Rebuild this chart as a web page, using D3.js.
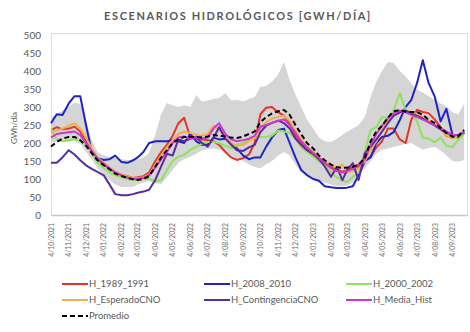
<!DOCTYPE html>
<html>
<head>
<meta charset="utf-8">
<script src="https://cdn.jsdelivr.net/npm/d3@7"></script>
<style>
  html, body { margin: 0; padding: 0; background: #fff; }
  svg { display: block; font-family: Lato, "Open Sans", sans-serif; }
</style>
</head>
<body>
<svg id="chart" width="470" height="332"></svg>
<script>
// Monthly tick labels (day/month/year)
const tickLabels = [
  "4/10/2021","4/11/2021","4/12/2021","4/01/2022","4/02/2022","4/03/2022",
  "4/04/2022","4/05/2022","4/06/2022","4/07/2022","4/08/2022","4/09/2022",
  "4/10/2022","4/11/2022","4/12/2022","4/01/2023","4/02/2023","4/03/2023",
  "4/04/2023","4/05/2023","4/06/2023","4/07/2023","4/08/2023","4/09/2023"
];
// Sample days within each month (days 4, 14 and 24)
const dayOffsets = [0, 10, 20];

// GWh/día per scenario, three samples per month
const h1989 = [235,244,238,240,245,232,205,178,155,140,128,118,112,108,103,105,108,118,
  150,175,195,220,255,270,215,212,210,208,205,195,175,160,153,158,168,200,
  280,298,300,285,276,255,220,198,180,168,150,144,135,127,120,125,133,140,
  150,162,188,205,240,240,210,200,265,292,286,283,265,244,220,215,217,228];
const h2008 = [255,280,278,310,330,330,250,175,158,153,155,165,147,145,152,160,175,200,
  205,205,205,208,205,200,225,205,195,195,215,210,212,200,185,165,155,160,
  160,190,215,236,240,200,160,125,111,100,95,80,77,75,75,76,80,110,
  150,160,200,217,220,230,264,300,320,367,430,367,328,260,295,220,215,230];
const h2000 = [240,210,205,207,212,205,195,170,145,130,118,110,105,100,97,97,102,100,
  93,97,125,150,162,167,181,189,198,203,203,200,192,186,195,200,208,214,
  217,217,220,235,232,228,212,188,175,162,150,139,119,105,95,92,106,118,
  175,236,244,272,270,290,339,292,285,260,215,212,202,215,192,189,210,225];
const hEsperado = [228,235,240,248,255,240,215,185,160,145,132,120,113,107,102,102,105,112,
  140,165,188,208,225,232,228,222,220,225,248,238,215,200,192,195,205,215,
  240,258,268,272,276,262,235,210,190,175,160,148,140,130,140,118,122,130,
  150,180,205,235,262,280,288,290,286,280,272,262,250,238,222,212,220,232];
const hContingencia = [145,145,160,180,168,152,138,128,120,110,85,58,55,55,58,62,65,70,
  98,135,170,165,210,205,212,217,200,190,214,244,212,195,180,178,188,195,
  230,248,256,262,255,240,212,195,180,170,155,135,106,133,97,125,144,97,
  172,190,210,232,255,275,285,290,282,275,268,258,248,238,228,222,222,230];
const hMedia = [215,225,228,230,232,222,200,178,158,142,130,118,110,104,100,100,103,110,
  132,155,175,200,215,218,212,215,212,215,240,255,225,210,205,208,212,220,
  245,250,256,262,265,250,228,205,188,172,158,145,130,122,118,122,128,135,
  155,195,225,248,268,282,290,285,278,272,265,258,250,242,232,222,222,232];
const promedio = [190,203,212,217,217,208,192,172,152,138,127,115,108,103,99,97,100,108,
  135,160,180,200,210,217,217,217,215,218,222,220,218,215,214,218,225,232,
  258,272,282,288,292,278,250,225,200,185,165,152,140,133,131,132,134,140,
  158,205,232,248,270,288,292,287,286,286,278,265,255,242,228,217,220,236];
// Historical envelope (min / max)
const rangeMax = [270,280,290,300,312,308,262,208,175,165,161,158,155,153,153,155,160,172,
  225,280,311,305,300,305,300,333,315,318,322,325,339,318,320,315,322,328,
  356,358,370,390,425,375,335,300,265,240,215,205,203,212,222,231,240,250,
  272,328,370,400,425,422,400,385,365,348,340,330,320,310,302,285,280,310];
const rangeMin = [198,205,208,208,205,198,175,155,130,112,97,85,78,78,78,85,90,95,
  88,86,105,125,145,155,162,170,180,183,185,182,175,165,155,150,140,133,
  130,140,150,165,175,165,140,120,108,100,95,90,85,80,80,82,90,108,
  130,150,170,181,185,189,193,198,200,190,181,186,189,180,165,150,148,153];

const yTicks = [0,50,100,150,200,250,300,350,400,450,500];

const seriesNames = ["H_1989_1991","H_2008_2010","H_2000_2002","H_EsperadoCNO",
  "H_ContingenciaCNO","H_Media_Hist","Promedio"];
const seriesColors = ["#E3342A","#1E22C8","#8DE35B","#F2B04A","#5A2B9C","#CF35CF","#000000"];
const seriesValues = [h1989, h2008, h2000, hEsperado, hContingencia, hMedia, promedio];

const parseDate = d3.timeParse("%d/%m/%Y");
const tickDates = tickLabels.map(parseDate);
const sampleDates = tickDates.flatMap(d => dayOffsets.map(k => d3.timeDay.offset(d, k)));

const svg = d3.select("#chart");
const textColor = "#595959";

const plot = { left: 51, right: 467, top: 35, bottom: 215 };

const x = d3.scaleTime()
  .domain([tickDates[0], d3.timeDay.offset(tickDates[tickDates.length - 1], 25)])
  .range([plot.left, plot.right]);
const y = d3.scaleLinear().domain([0, 500]).range([plot.bottom, plot.top]);

// Title
svg.append("text")
  .attr("x", 238).attr("y", 20)
  .attr("text-anchor", "middle")
  .attr("fill", textColor)
  .attr("font-size", 11).attr("font-weight", "bold")
  .attr("letter-spacing", 1.6)
  .text("ESCENARIOS HIDROLÓGICOS [GWH/DÍA]");

// Plot frame
svg.append("rect")
  .attr("x", plot.left + 0.5).attr("y", 33.5)
  .attr("width", plot.right - plot.left).attr("height", plot.bottom - 33)
  .attr("fill", "none").attr("stroke", "#DCDCDC");

// Y axis
const yAxis = svg.append("g")
  .attr("transform", `translate(${plot.left - 10},0)`)
  .call(d3.axisLeft(y).tickValues(yTicks).tickSize(0).tickPadding(0));
yAxis.select(".domain").remove();
yAxis.selectAll("text").attr("fill", textColor).attr("font-size", 10)
  .attr("font-family", "Lato, sans-serif");

svg.append("text")
  .attr("transform", "translate(17,128) rotate(-90)")
  .attr("text-anchor", "middle")
  .attr("fill", textColor).attr("font-size", 8)
  .text("GWh/día");

// X axis
const xAxis = svg.append("g")
  .attr("transform", `translate(0,${plot.bottom})`)
  .call(d3.axisBottom(x).tickValues(tickDates).tickSize(0)
    .tickFormat((d, i) => tickLabels[i]));
xAxis.select(".domain").attr("stroke", "#C8C8C8").attr("stroke-width", 1.5);
xAxis.selectAll("text")
  .attr("fill", "#6A6A6A").attr("font-size", 6.8)
  .attr("font-family", "Lato, sans-serif")
  .attr("text-anchor", "end")
  .attr("dy", "0.32em")
  .attr("transform", "translate(0,8) rotate(-90)")
  .attr("x", 0).attr("y", 0);

// Historical envelope
const band = sampleDates.map((d, i) => ({ d, lo: rangeMin[i], hi: rangeMax[i] }));
svg.append("path")
  .datum(band)
  .attr("fill", "#D5D5D5")
  .attr("d", d3.area().x(p => x(p.d)).y0(p => y(p.lo)).y1(p => y(p.hi)));

// Scenario lines
const line = d3.line().x(p => x(p.d)).y(p => y(p.v));
seriesValues.forEach((vals, s) => {
  svg.append("path")
    .datum(vals.map((v, i) => ({ d: sampleDates[i], v })))
    .attr("fill", "none")
    .attr("stroke", seriesColors[s])
    .attr("stroke-width", 2)
    .attr("stroke-linejoin", "round")
    .attr("stroke-dasharray", s === 6 ? "5,3" : null)
    .attr("d", line);
});

// Legend
const legendCols = [62, 204, 346];
const legendRows = [284, 300, 316];
seriesNames.forEach((name, i) => {
  const lx = legendCols[i % 3], ly = legendRows[Math.floor(i / 3)];
  const g = svg.append("g").attr("transform", `translate(${lx},${ly})`);
  g.append("line").attr("x1", 0).attr("x2", 26).attr("y1", 0).attr("y2", 0)
    .attr("stroke", seriesColors[i]).attr("stroke-width", 2)
    .attr("stroke-dasharray", i === 6 ? "5,3" : null);
  g.append("text").attr("x", 27).attr("y", 0).attr("dy", "0.35em")
    .attr("fill", textColor).attr("font-size", 9.5).text(name);
});
</script>
</body>
</html>
